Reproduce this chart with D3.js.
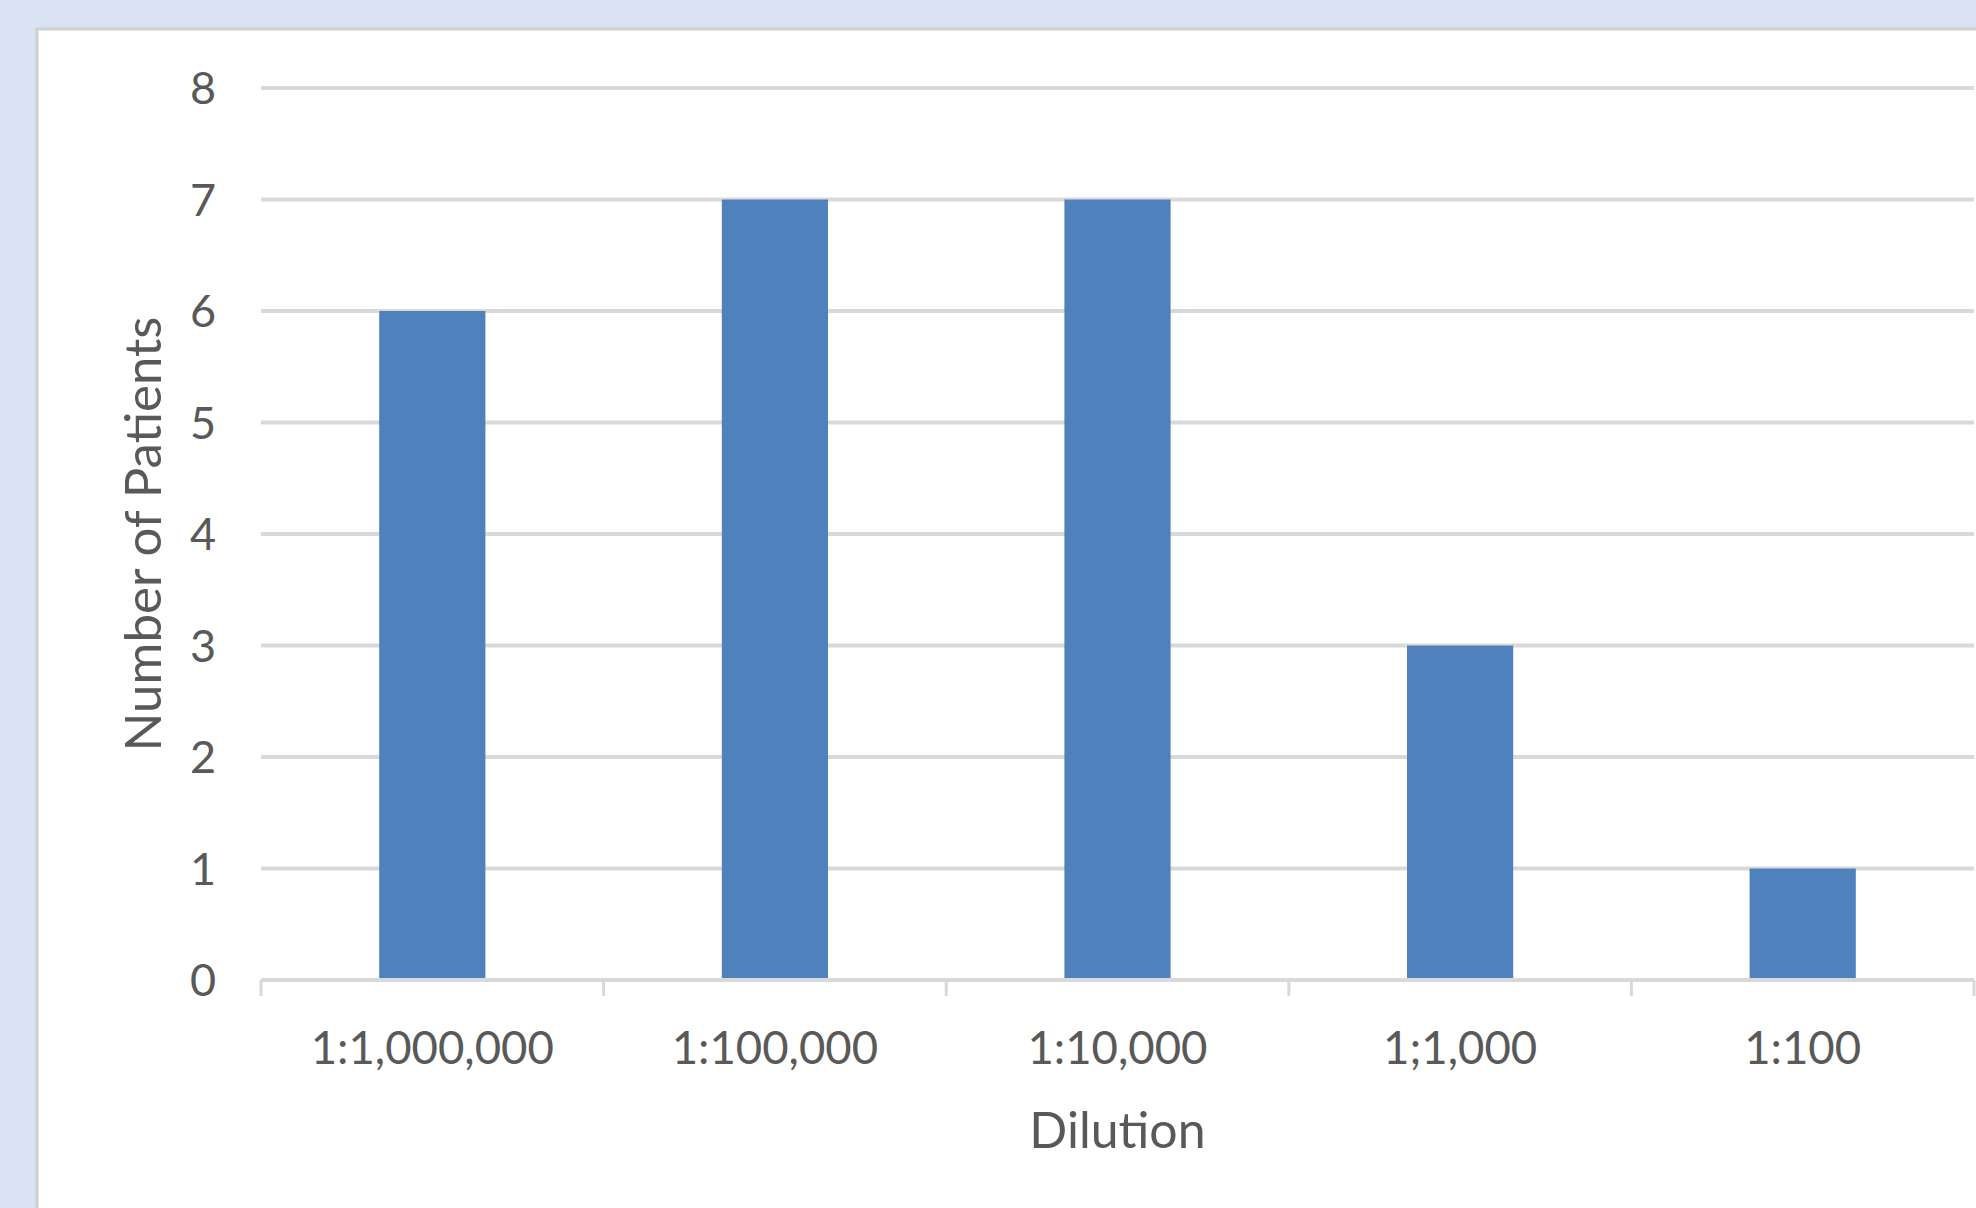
<!DOCTYPE html>
<html><head><meta charset="utf-8">
<script src="https://cdn.jsdelivr.net/npm/d3@7/dist/d3.min.js"></script>
<style>
html,body{margin:0;padding:0;background:#dae3f3;}
svg{display:block;}
</style></head>
<body>
<svg id="chart" width="1976" height="1208"></svg>
<script>
const categories = ["1:1,000,000","1:100,000","1:10,000","1;1,000","1:100"];
const patients = [6,7,7,3,1];
const yTicks = [0,1,2,3,4,5,6,7,8];
const xTitle = "Dilution";
const yTitle = "Number of Patients";

const svg = d3.select("#chart");
const W = 1976, H = 1208;
const m = {left:261, right:2, top:88, bottom:228};
const font = "Lato, 'Open Sans', sans-serif";
const txt = "#595959", grid = "#d9d9d9";

svg.append("rect").attr("x",0).attr("y",0).attr("width",W).attr("height",H).attr("fill","#dae3f3");
svg.append("rect").attr("x",37).attr("y",29).attr("width",W).attr("height",H)
  .attr("fill","#ffffff").attr("stroke","#d0d0d0").attr("stroke-width",3);

const x = d3.scaleBand().domain(categories).range([m.left, W-m.right]).paddingInner(0.69).paddingOuter(0.345);
const xb = d3.scaleBand().domain(categories).range([m.left, W-m.right]);
const y = d3.scaleLinear().domain([0,8]).range([H-m.bottom, m.top]);

svg.append("g").selectAll("line").data(yTicks.filter(d=>d>0)).join("line")
  .attr("x1",m.left).attr("x2",W-m.right)
  .attr("y1",d=>y(d)).attr("y2",d=>y(d))
  .attr("stroke",grid).attr("stroke-width",4);

svg.append("g").selectAll("rect").data(patients).join("rect")
  .attr("x",(d,i)=>x(categories[i]))
  .attr("width",x.bandwidth())
  .attr("y",d=>y(d))
  .attr("height",d=>y(0)-y(d))
  .attr("fill","#4f81bd");

const gx = svg.append("g").attr("transform",`translate(0,${y(0)})`);
gx.append("line").attr("x1",m.left).attr("x2",W-m.right).attr("y1",0).attr("y2",0)
  .attr("stroke",grid).attr("stroke-width",4);
const bounds = categories.map(c=>xb(c)).concat([W-m.right]);
gx.selectAll("line.tk").data(bounds).join("line").attr("class","tk")
  .attr("x1",d=>d).attr("x2",d=>d).attr("y1",0).attr("y2",16)
  .attr("stroke",grid).attr("stroke-width",3);
gx.selectAll("text.cat").data(categories).join("text").attr("class","cat")
  .attr("x",d=>xb(d)+xb.bandwidth()/2).attr("y",84)
  .attr("text-anchor","middle").attr("fill",txt)
  .style("font-family",font).style("font-size","45.5px").text(d=>d);

svg.append("g").selectAll("text").data(yTicks).join("text")
  .attr("x",216).attr("y",d=>y(d)+16)
  .attr("text-anchor","end").attr("fill",txt)
  .style("font-family",font).style("font-size","45px").text(d=>d);

svg.append("text").attr("x",(m.left+W-m.right)/2).attr("y",1148)
  .attr("text-anchor","middle").attr("fill",txt)
  .style("font-family",font).style("font-size","50px").text(xTitle);
svg.append("text").attr("transform",`translate(161,${(y(0)+y(8))/2}) rotate(-90)`)
  .attr("text-anchor","middle").attr("fill",txt)
  .style("font-family",font).style("font-size","51px").text(yTitle);
</script>
</body></html>
